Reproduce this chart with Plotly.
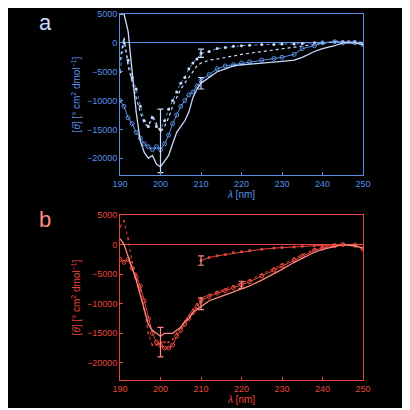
import plotly.graph_objects as go

# ---- panel a (blue) ----
a_wl = [190, 191, 192, 193, 194, 195, 196, 197, 198, 199, 200, 201, 202, 203, 204, 205, 206, 207, 208, 209, 210,
        212, 214, 216, 218, 220, 222, 225, 228, 230, 233, 235, 238, 240, 243, 245, 248, 250]
a_top = [-5000, 0, -3000, -6000, -8000, -11000, -13500, -14500, -13000, -14500, -15000, -13500, -11500, -10000, -8500,
         -7000, -6000, -4500, -3500, -2800, -1800, -1500, -1000, -800, -600, -500, -400, -300, -300, -200, -200, -100,
         0, 0, 200, 200, 200, -200]
a_mid = [-3000, 1000, -4000, -7000, -9500, -12000, -14000, -14500, -12500, -14000, -15500, -14500, -13000, -11000, -9500,
         -8000, -7000, -6000, -5000, -4000, -3500, -3000, -2800, -2500, -2300, -2000, -1800, -1500, -1200, -1000, -800,
         -600, -300, -100, 200, 300, 300, 0]
a_circ = [-10000, -11000, -13000, -14000, -15500, -16500, -17500, -18000, -18500, -18000, -18500, -17500, -16000, -14000,
          -12500, -11000, -10000, -9000, -8500, -7500, -6500, -5500, -4500, -4000, -3800, -3500, -3300, -3000, -2700,
          -2500, -2000, -1000, -500, 0, 200, 0, 0, -300]
a_solid = [5000, 5000, 2000, -5000, -12000, -17000, -19000, -20000, -19500, -21000, -21500, -20500, -19500, -17500,
           -15500, -14500, -13500, -12000, -9500, -8000, -7000, -6000, -5000, -4500, -4000, -3800, -3700, -3500, -3300,
           -3200, -3000, -2500, -1500, -1000, -500, 0, 0, -300]
a_err_x = [200, 210, 210]
a_err_y = [-17000, -1800, -7000]
a_err_e = [5500, 700, 1000]

# ---- panel b (red) ----
b_wl = [190, 191, 192, 193, 194, 195, 196, 197, 198, 199, 200, 201, 202, 203, 204, 205, 206, 207, 208, 209, 210,
        212, 214, 216, 218, 220, 222, 225, 228, 230, 233, 235, 238, 240, 243, 245, 248, 250]
b_circ = [-2500, -3000, -2500, -4000, -5500, -7000, -9500, -12500, -15000, -16500, -17000, -17500, -17500, -17000, -15500,
          -14500, -13500, -12500, -11500, -10500, -9500, -8800, -8200, -7800, -7300, -6800, -6300, -5300, -4300, -3600,
          -2600, -2000, -1000, -600, -200, 0, -100, -700]
b_dot = [3000, 4000, 1000, -3000, -5000, -7500, -11000, -15000, -17000, -17000, -16500, -16500, -16500, -16000, -15000,
         -14000, -13000, -12000, -11000, -10000, -9000, -8500, -8000, -7500, -7000, -6500, -6000, -5000, -4000, -3300,
         -2300, -1700, -800, -400, -100, 0, -300, -1000]
b_solid = [1000, 0, -2000, -4000, -6000, -8500, -11000, -13500, -14500, -15000, -15500, -15000, -15000, -15000, -14500,
           -14000, -13000, -12500, -11500, -11000, -10500, -9500, -9000, -8500, -8000, -7500, -7000, -6000, -5000,
           -4200, -3000, -2300, -1300, -800, -300, 0, -200, -600]
b_top_wl = [210, 212, 214, 216, 218, 220, 222, 225, 228, 230, 233, 235, 238, 240, 243, 245]
b_top = [-2700, -2200, -1900, -1700, -1400, -1200, -1000, -800, -600, -500, -400, -300, -200, -150, -50, 0]
b_err_x = [200, 210, 220, 210]
b_err_y = [-16500, -10000, -6800, -2700]
b_err_e = [2500, 1000, 600, 800]

blue = "#5b8fe6"
blue_lt = "#c9dcff"
red = "#e8463c"
red_lt = "#ff8a80"

fig = go.Figure()

# panel a
fig.add_trace(go.Scatter(x=a_wl, y=a_top, mode="lines+markers", line=dict(color=blue, width=1, dash="dot"),
                         marker=dict(size=3, color=blue_lt), xaxis="x", yaxis="y"))
fig.add_trace(go.Scatter(x=a_wl, y=a_mid, mode="lines", line=dict(color=blue_lt, width=1.2, dash="dot"),
                         xaxis="x", yaxis="y"))
fig.add_trace(go.Scatter(x=a_wl, y=a_circ, mode="lines+markers", line=dict(color=blue, width=1),
                         marker=dict(size=4, symbol="circle-open", color=blue), xaxis="x", yaxis="y"))
fig.add_trace(go.Scatter(x=a_wl, y=a_solid, mode="lines", line=dict(color=blue_lt, width=1.3),
                         xaxis="x", yaxis="y"))
fig.add_trace(go.Scatter(x=a_err_x, y=a_err_y, mode="markers", marker=dict(size=1, color=blue_lt),
                         error_y=dict(array=a_err_e, color=blue_lt, thickness=1.2, width=3), xaxis="x", yaxis="y"))

# panel b
fig.add_trace(go.Scatter(x=b_wl, y=b_circ, mode="lines+markers", line=dict(color=red, width=1),
                         marker=dict(size=4, symbol="circle-open", color=red), xaxis="x2", yaxis="y2"))
fig.add_trace(go.Scatter(x=b_wl, y=b_dot, mode="lines+markers", line=dict(color=red, width=1, dash="dot"),
                         marker=dict(size=2, color=red), xaxis="x2", yaxis="y2"))
fig.add_trace(go.Scatter(x=b_wl, y=b_solid, mode="lines", line=dict(color=red_lt, width=1.3),
                         xaxis="x2", yaxis="y2"))
fig.add_trace(go.Scatter(x=b_top_wl, y=b_top, mode="lines+markers", line=dict(color=red, width=1),
                         marker=dict(size=3, color=red), xaxis="x2", yaxis="y2"))
fig.add_trace(go.Scatter(x=b_err_x, y=b_err_y, mode="markers", marker=dict(size=1, color=red_lt),
                         error_y=dict(array=b_err_e, color=red_lt, thickness=1.2, width=3), xaxis="x2", yaxis="y2"))

font = dict(family="Liberation Sans", size=9)


def xax(color, anchor):
    return dict(range=[190, 250], tickvals=[190, 200, 210, 220, 230, 240, 250], anchor=anchor,
                domain=[0.28, 0.8875], showgrid=False, zeroline=False, showline=True, mirror=True,
                linecolor=color, ticks="inside", ticklen=3, tickcolor=color, automargin=False,
                tickfont=dict(color=color, **font), title=dict(text="<i>λ</i> [nm]", font=dict(color=color, size=10,
                family="Liberation Sans"), standoff=2))


def yax(color, anchor, dom):
    return dict(range=[-22900, 5000], tickvals=[5000, 0, -5000, -10000, -15000, -20000],
                ticktext=["5000", "0", "−5000", "−10000", "−15000", "−20000"], anchor=anchor, domain=dom,
                showgrid=False, zeroline=True, zerolinecolor=color, zerolinewidth=1, showline=True, mirror=True,
                linecolor=color, ticks="inside", ticklen=3, tickcolor=color, automargin=False,
                tickfont=dict(color=color, **font),
                title=dict(text="[<i>θ</i>] [° cm<sup>2</sup> dmol<sup>−1</sup>]",
                           font=dict(color=color, size=10, family="Liberation Sans"), standoff=4))


fig.update_layout(
    width=400, height=400, paper_bgcolor="black", plot_bgcolor="black", showlegend=False,
    margin=dict(l=0, r=0, t=0, b=0),
    xaxis=xax(blue, "y"), yaxis=yax(blue, "x", [0.5825, 0.985]),
    xaxis2=xax(red, "y2"), yaxis2=yax(red, "x2", [0.07, 0.4825]),
    annotations=[
        dict(text="a", x=0.0725, y=1.0, yanchor="top", xref="paper", yref="paper", showarrow=False,
             font=dict(color=blue_lt, size=22, family="Liberation Sans")),
        dict(text="b", x=0.0725, y=0.4725, xref="paper", yref="paper", showarrow=False,
             font=dict(color=red_lt, size=22, family="Liberation Sans")),
    ],
)

fig.write_html("out.html")
